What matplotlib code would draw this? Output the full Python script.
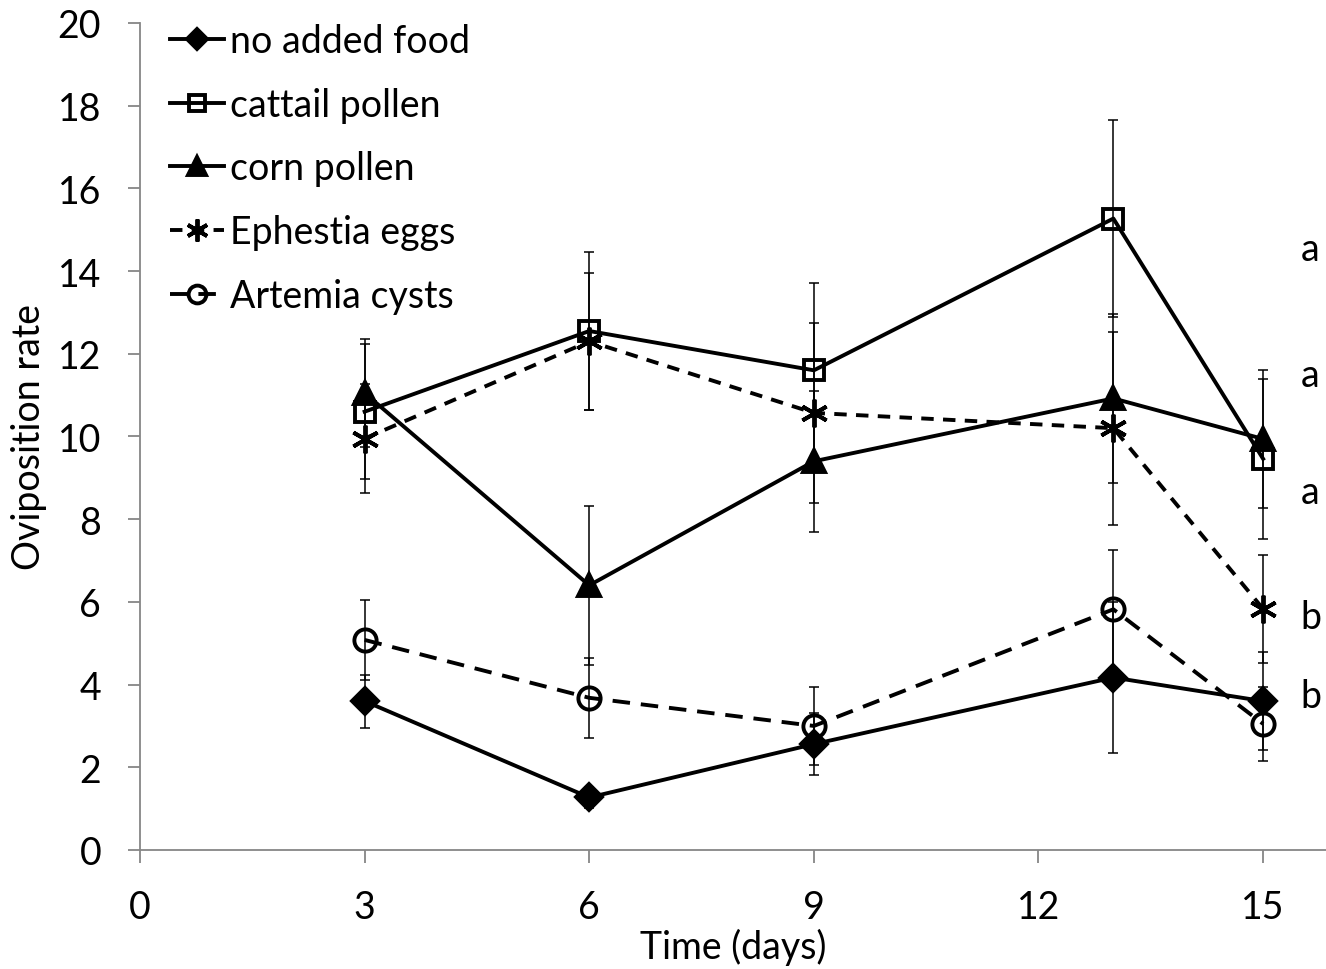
import matplotlib
matplotlib.use('Agg')
import matplotlib.pyplot as plt

# oviposition rate per sampling day (mean and standard error)
days = [3, 6, 9, 13, 15]
series_names = ['no added food', 'cattail pollen', 'corn pollen',
                'Ephestia eggs', 'Artemia cysts']
no_food = [3.60, 1.27, 2.56, 4.17, 3.60]
no_food_se = [0.64, 0.25, 0.75, 1.82, 1.19]
cattail = [10.60, 12.55, 11.60, 15.27, 9.46]
cattail_se = [1.63, 1.90, 2.12, 2.38, 1.93]
corn = [11.05, 6.40, 9.40, 10.92, 9.94]
corn_se = [1.30, 1.92, 1.70, 2.05, 1.66]
ephestia = [9.95, 12.30, 10.57, 10.20, 5.83]
ephestia_se = [1.32, 1.65, 2.17, 2.33, 1.30]
artemia = [5.08, 3.68, 3.00, 5.82, 3.05]
artemia_se = [0.97, 0.97, 0.94, 1.43, 0.90]

# significance letters at the end of the series
letters = ['a', 'a', 'a', 'b', 'b']
letter_y = [14.53, 11.49, 8.66, 5.63, 3.72]

plt.rcParams['font.family'] = ['Lato', 'DejaVu Sans']
FS = 27
AXIS_GREY = '#868686'

fig = plt.figure(figsize=(13.26, 9.70), dpi=100)
ax = fig.add_axes([0.1056, 0.1227, 0.8944, 0.8526])

styles = [
    dict(marker='D', ms=13, mfc='black', ls='-'),
    dict(marker='s', ms=14, mfc='none', ls='-'),
    dict(marker='^', ms=16, mfc='black', ls='-'),
    dict(marker=(6, 2, 0), ms=20, mfc='black', ls=(0, (3.2, 2.4))),
    dict(marker='o', ms=16, mfc='none', ls=(0, (4.5, 2.8))),
]
values = [no_food, cattail, corn, ephestia, artemia]
errors = [no_food_se, cattail_se, corn_se, ephestia_se, artemia_se]

handles = []
for name, y, se, st in zip(series_names, values, errors, styles):
    ax.errorbar(days, y, yerr=se, fmt='none', ecolor='black',
                elinewidth=1.1, capsize=3.6, capthick=1.1, zorder=2)
    line, = ax.plot(days, y, color='black', lw=2.8, ls=st['ls'],
                    marker=st['marker'], ms=st['ms'], mfc=st['mfc'],
                    mec='black', mew=2.8, zorder=3, label=name)
    handles.append(line)

for letter, ly in zip(letters, letter_y):
    ax.text(15.5, ly, letter, fontsize=FS, va='center', ha='left',
            clip_on=False)

ax.set_xlim(0, 15.84)
ax.set_ylim(0, 20)
ax.set_xticks([0, 3, 6, 9, 12, 15])
ax.set_yticks(range(0, 21, 2))
ax.tick_params(direction='out', length=9, width=1.3, color=AXIS_GREY,
               labelsize=FS)
ax.tick_params(axis='x', pad=19)
ax.tick_params(axis='y', pad=19)
for side in ('top', 'right'):
    ax.spines[side].set_visible(False)
for side in ('left', 'bottom'):
    ax.spines[side].set_color(AXIS_GREY)
    ax.spines[side].set_linewidth(1.3)

ax.set_xlabel('Time (days)', fontsize=FS, labelpad=2)
ax.set_ylabel('Oviposition rate', fontsize=FS, labelpad=8)

ax.legend(handles=handles, loc='upper left', bbox_to_anchor=(0.025, 1.0),
          frameon=False, fontsize=FS, handlelength=1.44, handletextpad=0.16,
          labelspacing=0.74, borderpad=0, borderaxespad=0, markerscale=0.8)

fig.savefig('out.png', dpi=100)
